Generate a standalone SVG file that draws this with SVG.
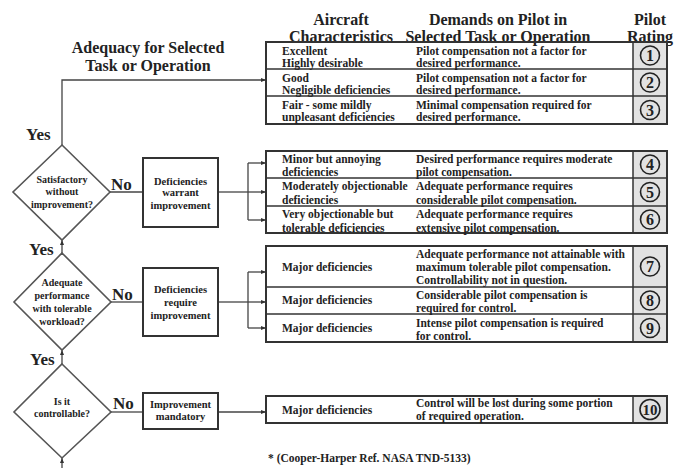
<svg xmlns="http://www.w3.org/2000/svg" width="680" height="468" viewBox="0 0 680 468">
<style>
.t{font-family:"Liberation Serif","Times New Roman",serif;font-weight:bold;fill:#222}
.hdr{font-size:16px;text-anchor:middle}
.cell{font-size:11.5px}
.dt{font-size:10px;text-anchor:middle}
.bt{font-size:10.5px;text-anchor:middle}
.yn{font-size:17px}
.num{font-size:16px;text-anchor:middle}
.dia{fill:#fff;stroke:#555;stroke-width:1.6}
.box{fill:#fff;stroke:#333;stroke-width:2}
.frame{fill:none;stroke:#333;stroke-width:2}
.grid{stroke:#333;stroke-width:1.5}
.rate{fill:#e2e2e2;stroke:#333;stroke-width:1.5}
.circ{fill:none;stroke:#222;stroke-width:1.6}
.conn{fill:none;stroke:#444;stroke-width:1.3}
</style>
<defs>
<marker id="ah" viewBox="0 0 10 10" refX="10" refY="5" markerWidth="5" markerHeight="5" orient="auto" markerUnits="userSpaceOnUse">
<path d="M0,1 L10,5 L0,9 z" fill="#333"/>
</marker>
</defs>
<rect width="680" height="468" fill="#fff"/>

<g id="headers">
<text class="t hdr" x="148" y="53">Adequacy for Selected</text>
<text class="t hdr" x="148" y="71">Task or Operation</text>
<text class="t hdr" x="341" y="25">Aircraft</text>
<text class="t hdr" x="341" y="42">Characteristics</text>
<text class="t hdr" x="498" y="25">Demands on Pilot in</text>
<text class="t hdr" x="498" y="42">Selected Task or Operation</text>
<text class="t hdr" x="650" y="25">Pilot</text>
<text class="t hdr" x="650" y="42">Rating</text>
</g>

<g id="connectors">
<polyline class="conn" points="62,145 62,80 266,80" marker-end="url(#ah)"/>
<line class="conn" x1="110" y1="192" x2="143" y2="192"/>
<line class="conn" x1="218" y1="192" x2="248" y2="192"/>
<line class="conn" x1="248" y1="163" x2="248" y2="220"/>
<line class="conn" x1="248" y1="163" x2="266" y2="163" marker-end="url(#ah)"/>
<line class="conn" x1="248" y1="192" x2="266" y2="192" marker-end="url(#ah)"/>
<line class="conn" x1="248" y1="220" x2="266" y2="220" marker-end="url(#ah)"/>
<line class="conn" x1="62" y1="253" x2="62" y2="240" marker-end="url(#ah)"/>
<line class="conn" x1="111" y1="302" x2="143" y2="302"/>
<line class="conn" x1="218" y1="302" x2="248" y2="302"/>
<line class="conn" x1="248" y1="272" x2="248" y2="328"/>
<line class="conn" x1="248" y1="272" x2="266" y2="272" marker-end="url(#ah)"/>
<line class="conn" x1="248" y1="302" x2="266" y2="302" marker-end="url(#ah)"/>
<line class="conn" x1="248" y1="328" x2="266" y2="328" marker-end="url(#ah)"/>
<line class="conn" x1="62" y1="364" x2="62" y2="350" marker-end="url(#ah)"/>
<line class="conn" x1="111" y1="412" x2="143" y2="412"/>
<line class="conn" x1="218" y1="412" x2="266" y2="412" marker-end="url(#ah)"/>
<line class="conn" x1="62" y1="468" x2="62" y2="458" marker-end="url(#ah)"/>
</g>

<g id="diamond1">
<polygon class="dia" points="62,145 110,192 62,240 13,192"/>
<text class="t dt" x="62" y="183">Satisfactory</text>
<text class="t dt" x="62" y="195">without</text>
<text class="t dt" x="62" y="208">improvement?</text>
</g>
<g id="diamond2">
<polygon class="dia" points="62,253 111,302 62,350 14,302"/>
<text class="t dt" x="62" y="286">Adequate</text>
<text class="t dt" x="62" y="299">performance</text>
<text class="t dt" x="62" y="312">with tolerable</text>
<text class="t dt" x="62" y="325">workload?</text>
</g>
<g id="diamond3">
<polygon class="dia" points="62,364 111,412 62,458 14,412"/>
<text class="t dt" x="62" y="405">Is it</text>
<text class="t dt" x="62" y="417">controllable?</text>
</g>

<g id="labels">
<text class="t yn" x="26" y="140">Yes</text>
<text class="t yn" x="29" y="255">Yes</text>
<text class="t yn" x="30" y="365">Yes</text>
<text class="t yn" x="111" y="190">No</text>
<text class="t yn" x="112" y="300">No</text>
<text class="t yn" x="113" y="409">No</text>
</g>

<g id="box1">
<rect class="box" x="143" y="158" width="75" height="69"/>
<text class="t bt" x="180.5" y="185">Deficiencies</text>
<text class="t bt" x="180.5" y="196">warrant</text>
<text class="t bt" x="180.5" y="209">improvement</text>
</g>
<g id="box2">
<rect class="box" x="143" y="268" width="75" height="68"/>
<text class="t bt" x="180.5" y="293">Deficiencies</text>
<text class="t bt" x="180.5" y="306">require</text>
<text class="t bt" x="180.5" y="319">improvement</text>
</g>
<g id="box3">
<rect class="box" x="143" y="393" width="75" height="36"/>
<text class="t bt" x="180.5" y="408">Improvement</text>
<text class="t bt" x="180.5" y="420">mandatory</text>
</g>

<g id="group1">
<rect class="rate" x="633" y="42" width="34" height="82"/>
<rect class="frame" x="266" y="42" width="401" height="82"/>
<line class="grid" x1="266" y1="69" x2="667" y2="69"/>
<line class="grid" x1="266" y1="96" x2="667" y2="96"/>
<text class="t cell" x="282" y="54.5">Excellent</text>
<text class="t cell" x="282" y="67">Highly desirable</text>
<text class="t cell" x="416" y="54.5">Pilot compensation not a factor for</text>
<text class="t cell" x="416" y="67">desired performance.</text>
<text class="t cell" x="282" y="81.5">Good</text>
<text class="t cell" x="282" y="94">Negligible deficiencies</text>
<text class="t cell" x="416" y="81.5">Pilot compensation not a factor for</text>
<text class="t cell" x="416" y="94">desired performance.</text>
<text class="t cell" x="282" y="108.5">Fair - some mildly</text>
<text class="t cell" x="282" y="121">unpleasant deficiencies</text>
<text class="t cell" x="416" y="108.5">Minimal compensation required for</text>
<text class="t cell" x="416" y="121">desired performance.</text>
<circle class="circ" cx="650" cy="55.5" r="9.5"/><text class="t num" x="650" y="61">1</text>
<circle class="circ" cx="650" cy="82.5" r="9.5"/><text class="t num" x="650" y="88">2</text>
<circle class="circ" cx="650" cy="110" r="9.5"/><text class="t num" x="650" y="115.5">3</text>
</g>

<g id="group2">
<rect class="rate" x="633" y="151" width="34" height="82"/>
<rect class="frame" x="266" y="151" width="401" height="82"/>
<line class="grid" x1="266" y1="178" x2="667" y2="178"/>
<line class="grid" x1="266" y1="206" x2="667" y2="206"/>
<text class="t cell" x="282" y="163">Minor but annoying</text>
<text class="t cell" x="282" y="176">deficiencies</text>
<text class="t cell" x="416" y="163">Desired performance requires moderate</text>
<text class="t cell" x="416" y="176">pilot compensation.</text>
<text class="t cell" x="282" y="190">Moderately objectionable</text>
<text class="t cell" x="282" y="203.5">deficiencies</text>
<text class="t cell" x="416" y="190">Adequate performance requires</text>
<text class="t cell" x="416" y="203.5">considerable pilot compensation.</text>
<text class="t cell" x="282" y="218">Very objectionable but</text>
<text class="t cell" x="282" y="231.5">tolerable deficiencies</text>
<text class="t cell" x="416" y="218">Adequate performance requires</text>
<text class="t cell" x="416" y="231.5">extensive pilot compensation.</text>
<circle class="circ" cx="650" cy="164.5" r="9.5"/><text class="t num" x="650" y="170">4</text>
<circle class="circ" cx="650" cy="192" r="9.5"/><text class="t num" x="650" y="197.5">5</text>
<circle class="circ" cx="650" cy="219.5" r="9.5"/><text class="t num" x="650" y="225">6</text>
</g>

<g id="group3">
<rect class="rate" x="633" y="246" width="34" height="96"/>
<rect class="frame" x="266" y="246" width="401" height="96"/>
<line class="grid" x1="266" y1="287" x2="667" y2="287"/>
<line class="grid" x1="266" y1="314" x2="667" y2="314"/>
<text class="t cell" x="282" y="271">Major deficiencies</text>
<text class="t cell" x="416" y="258">Adequate performance not attainable with</text>
<text class="t cell" x="416" y="271">maximum tolerable pilot compensation.</text>
<text class="t cell" x="416" y="284">Controllability not in question.</text>
<text class="t cell" x="282" y="304">Major deficiencies</text>
<text class="t cell" x="416" y="299">Considerable pilot compensation is</text>
<text class="t cell" x="416" y="312"> required for control.</text>
<text class="t cell" x="282" y="332">Major deficiencies</text>
<text class="t cell" x="416" y="327">Intense pilot compensation is required</text>
<text class="t cell" x="416" y="340">for control.</text>
<circle class="circ" cx="650" cy="266.5" r="9.5"/><text class="t num" x="650" y="272">7</text>
<circle class="circ" cx="650" cy="300.5" r="9.5"/><text class="t num" x="650" y="306">8</text>
<circle class="circ" cx="650" cy="328" r="9.5"/><text class="t num" x="650" y="333.5">9</text>
</g>

<g id="group4">
<rect class="rate" x="633" y="396" width="34" height="27"/>
<rect class="frame" x="266" y="396" width="401" height="27"/>
<text class="t cell" x="282" y="414">Major deficiencies</text>
<text class="t cell" x="416" y="407">Control will be lost during some portion</text>
<text class="t cell" x="416" y="420">of required operation.</text>
<circle class="circ" cx="650" cy="409.5" r="10"/><text class="t num" x="650" y="415" style="font-size:15px">10</text>
</g>

<g id="footnote">
<text class="t" x="268" y="462" style="font-size:11.5px">* (Cooper-Harper Ref. NASA TND-5133)</text>
</g>
</svg>
